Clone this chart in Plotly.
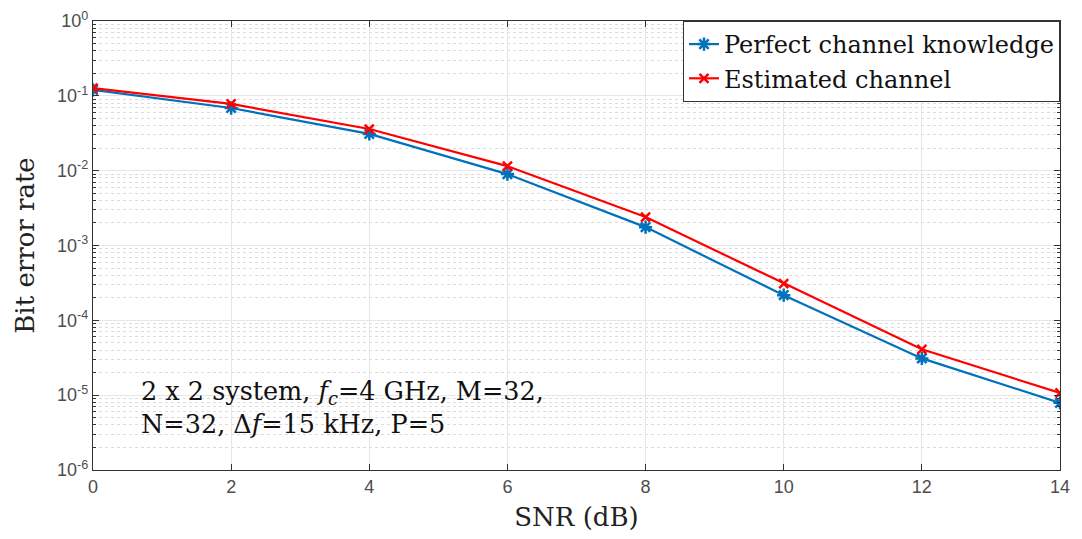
import plotly.graph_objects as go

snr = [0, 2, 4, 6, 8, 10, 12, 14]
ber_perfect = [0.12, 0.0687, 0.031, 0.009, 0.00176, 2.17e-4, 3.1e-5, 7.9e-6]
ber_estimated = [0.127, 0.078, 0.036, 0.0115, 0.0024, 3.1e-4, 4.1e-5, 1.07e-5]
x_ticks = [0, 2, 4, 6, 8, 10, 12, 14]
y_ticks = [1e0, 1e-1, 1e-2, 1e-3, 1e-4, 1e-5, 1e-6]
y_ticktext = ["10<sup>0</sup>", "10<sup>-1</sup>", "10<sup>-2</sup>", "10<sup>-3</sup>",
              "10<sup>-4</sup>", "10<sup>-5</sup>", "10<sup>-6</sup>"]

blue = "#0072BD"
red = "#FF0000"
serif = "DejaVu Serif, Liberation Serif, serif"
sans = "Liberation Sans, Arial, sans-serif"

fig = go.Figure()
fig.add_trace(go.Scatter(
    x=snr, y=ber_perfect, mode="lines+markers", name="Perfect channel knowledge",
    line=dict(color=blue, width=2.2),
    marker=dict(symbol="asterisk-open", size=11, line=dict(color=blue, width=2.5))))
fig.add_trace(go.Scatter(
    x=snr, y=ber_estimated, mode="lines+markers", name="Estimated channel",
    line=dict(color=red, width=2.2),
    marker=dict(symbol="x-thin-open", size=9, line=dict(color=red, width=2.5))))

fig.add_annotation(
    x=0.048, y=0.064, xref="paper", yref="paper", xanchor="left", yanchor="bottom",
    align="left", showarrow=False,
    text="2 x 2 system, <i>f</i><sub><i>c</i></sub>=4 GHz, M=32,<br>N=32, Δ<i>f</i>=15 kHz, P=5",
    font=dict(family=serif, size=25.5, color="#111111"))

fig.update_layout(
    width=1082, height=539,
    margin=dict(l=93, r=22, t=21, b=69, autoexpand=False),
    plot_bgcolor="white", paper_bgcolor="white",
    showlegend=True,
    legend=dict(x=1, y=1, xanchor="right", yanchor="top",
                bgcolor="white", bordercolor="#333333", borderwidth=1,
                font=dict(family=serif, size=24, color="#111111"),
                tracegroupgap=0, itemwidth=30),
    xaxis=dict(
        range=[0, 14], tickvals=x_ticks, ticks="inside", ticklen=6,
        tickcolor="#333333", showline=True, linecolor="#333333", linewidth=1.2,
        mirror="ticks", showgrid=True, gridcolor="#e6e6e6", zeroline=False,
        tickfont=dict(family=sans, size=18, color="#4d4d4d"),
        title=dict(text="SNR (dB)", font=dict(family=serif, size=26, color="#222222"),
                   standoff=12)),
    yaxis=dict(
        type="log", range=[-6, 0], tickvals=y_ticks, ticktext=y_ticktext,
        ticks="inside", ticklen=6, tickcolor="#333333",
        showline=True, linecolor="#333333", linewidth=1.2, mirror="ticks",
        showgrid=True, gridcolor="#e6e6e6", zeroline=False,
        tickfont=dict(family=sans, size=18, color="#4d4d4d"),
        minor=dict(ticks="inside", ticklen=3, tickcolor="#333333", showgrid=True,
                   gridcolor="#dcdcdc", griddash="dot", dtick="D1"),
        title=dict(text="Bit error rate", font=dict(family=serif, size=26, color="#222222"),
                   standoff=14)),
)

fig.write_html("out.html", config={"displayModeBar": False},
               post_script="document.body.style.margin='0';")
